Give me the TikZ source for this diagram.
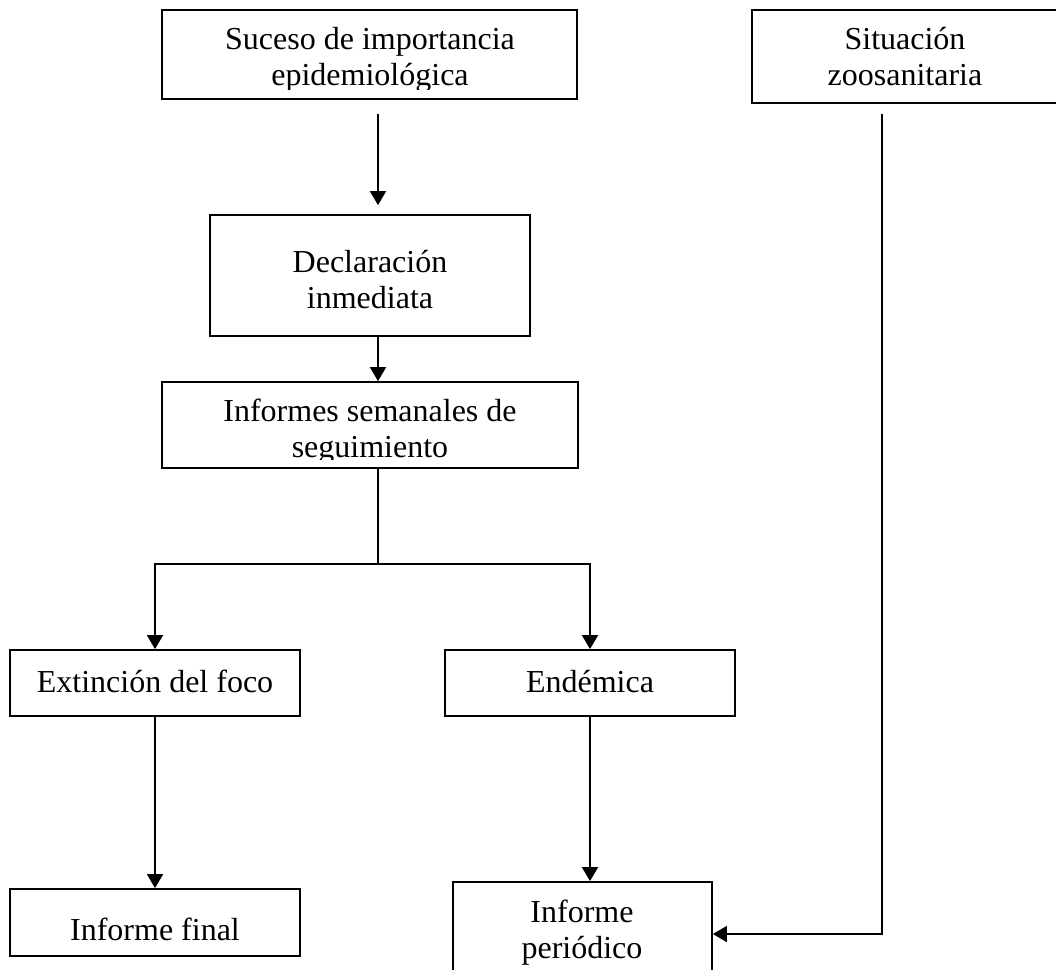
\documentclass[tikz,border=0pt]{standalone}
\usepackage{fontspec}
\setmainfont{Liberation Serif}
\usetikzlibrary{arrows.meta}

\tikzset{
  box/.style={draw, line width=1.8pt, inner sep=0pt},
  txt/.style={align=center, anchor=base, inner sep=0pt, font=\fontsize{32pt}{36pt}\selectfont},
  lin/.style={line width=1.8pt},
  arr/.style={line width=1.8pt, -{Triangle[length=14pt,width=16pt]}}
}

\begin{document}
\begin{tikzpicture}[x=1pt,y=-1pt]
  \useasboundingbox (0,0) rectangle (1056,969);

  % cajas
  \node[box, minimum width=415pt, minimum height=89pt] (suceso) at (369.5,54.5) {};
  \node[box, minimum width=310pt, minimum height=93pt] (situacion) at (907,56.5) {};
  \node[box, minimum width=320pt, minimum height=121pt] (declaracion) at (370,275.5) {};
  \node[box, minimum width=416pt, minimum height=86pt] (informes) at (370,425) {};
  \node[box, minimum width=290pt, minimum height=66pt] (extincion) at (155,683) {};
  \node[box, minimum width=290pt, minimum height=66pt] (endemica) at (590,683) {};
  \node[box, minimum width=290pt, minimum height=67pt] (final) at (155,922.5) {};
  \node[box, minimum width=259pt, minimum height=98pt] (periodico) at (582.5,931) {};

  % textos (base = ultima linea)
  \begin{scope}
    \clip (162,10) rectangle (577,89);
    \node[txt] (tsuceso) at (370,85) {Suceso de importancia\\epidemiológica};
  \end{scope}
  \node[txt] (tsituacion) at (905,85) {Situación\\zoosanitaria};
  \node[txt] (tdeclaracion) at (370,308) {Declaración\\inmediata};
  \begin{scope}
    \clip (162,382) rectangle (578,459);
    \node[txt] (tinformes) at (370,457) {Informes semanales de\\seguimiento};
  \end{scope}
  \node[txt] (textincion) at (155,692) {Extinción del foco};
  \node[txt] (tendemica) at (590,692) {Endémica};
  \node[txt] (tfinal) at (155,940) {Informe final};
  \node[txt] (tperiodico) at (582,958) {Informe\\periódico};

  % flechas
  \coordinate (stem) at (378,0);
  \coordinate (fork) at (378,564);
  \coordinate (bend) at (882,934);
  \draw[arr] ([yshift=-14pt]suceso.south -| stem) -- ([yshift=9pt]declaracion.north -| stem);
  \draw[arr] (declaracion.south -| stem) -- (informes.north -| stem);
  \draw[lin] (informes.south -| stem) -- (fork);
  \draw[arr] (fork) -| (extincion.north);
  \draw[arr] (fork) -| (endemica.north);
  \draw[arr] (extincion.south) -- (final.north);
  \draw[arr] (endemica.south) -- (endemica.south |- periodico.north);
  \draw[arr] ([yshift=-10pt]situacion.south -| bend) -- (bend) -- (periodico.east |- bend);
\end{tikzpicture}
\end{document}
